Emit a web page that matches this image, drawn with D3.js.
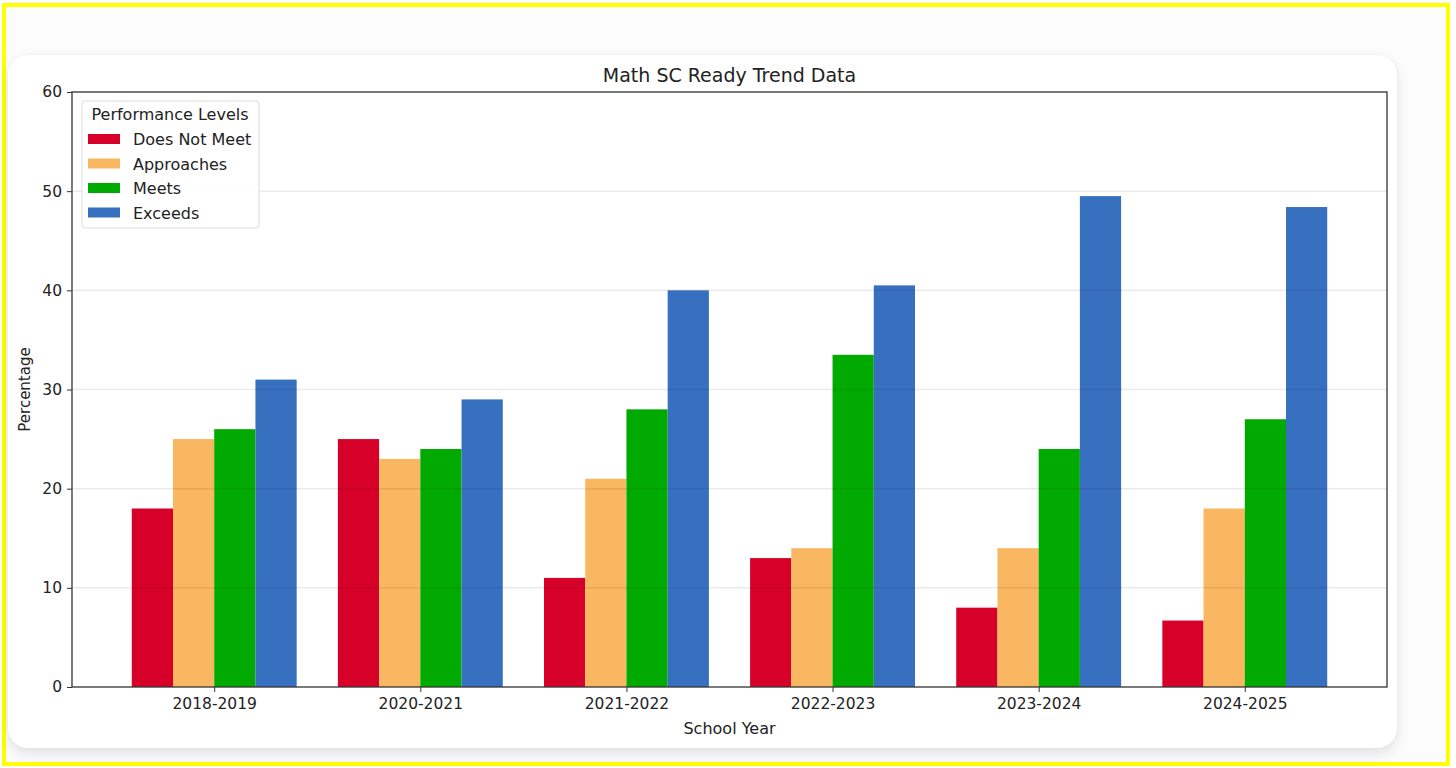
<!DOCTYPE html>
<html>
<head>
<meta charset="utf-8">
<script src="https://cdn.jsdelivr.net/npm/d3@7"></script>
<style>
  html, body { margin: 0; padding: 0; background: #fff; }
  body { width: 1456px; height: 768px; position: relative; overflow: hidden; }
  #frame { position: absolute; left: 2px; top: 3px; width: 1440px; height: 755px; border: 4px solid #ffff00; background: #fcfcfc; }
  #card { position: absolute; left: 8px; top: 55px; width: 1389px; height: 693px; background: #fff; border-radius: 20px;
          box-shadow: 0 6px 14px rgba(0,0,0,0.10), 0 0 4px rgba(0,0,0,0.04); }
  svg { position: absolute; left: 0; top: 0; }
  text { font-family: "DejaVu Sans", sans-serif; fill: #222; }
</style>
</head>
<body>
<div id="frame"></div>
<div id="card"></div>
<div id="chart"></div>
<script>
// data
var years = ["2018-2019", "2020-2021", "2021-2022", "2022-2023", "2023-2024", "2024-2025"];
var levels = ["Does Not Meet", "Approaches", "Meets", "Exceeds"];
var doesNotMeet = [18, 25, 11, 13, 8, 6.7];
var approaches = [25, 23, 21, 14, 14, 18];
var meets = [26, 24, 28, 33.5, 24, 27];
var exceeds = [31, 29, 40, 40.5, 49.5, 48.4];
var yTicks = [0, 10, 20, 30, 40, 50, 60];
var colors = ["#d60029", "#f9b761", "#00aa00", "#3870c0"];

var series = [doesNotMeet, approaches, meets, exceeds];

// plot area
var pLeft = 72, pRight = 1387, pTop = 92, pBottom = 687;

var svg = d3.select("#chart").append("svg")
    .attr("width", 1456)
    .attr("height", 768);

var x = d3.scaleLinear().domain([-0.69, years.length - 1 + 0.69]).range([pLeft, pRight]);
var y = d3.scaleLinear().domain([0, 60]).range([pBottom, pTop]);
var barW = 0.2;

// bars
series.forEach(function(vals, i) {
  svg.append("g").selectAll("rect").data(vals).enter()
    .append("rect")
      .attr("x", function(d, j) { return x(j + (i - 2) * barW); })
      .attr("y", function(d) { return y(d); })
      .attr("width", x(barW) - x(0))
      .attr("height", function(d) { return y(0) - y(d); })
      .attr("fill", colors[i]);
});

// grid (above bars, faint)
svg.append("g").selectAll("line").data(yTicks.slice(1, -1)).enter()
  .append("line")
    .attr("x1", pLeft).attr("x2", pRight)
    .attr("y1", function(d) { return y(d); })
    .attr("y2", function(d) { return y(d); })
    .attr("stroke", "rgba(0,0,0,0.08)")
    .attr("stroke-width", 1.5);

// axes
var yAxis = svg.append("g")
  .attr("transform", "translate(" + pLeft + ",0)")
  .call(d3.axisLeft(y).tickValues(yTicks).tickSize(5).tickPadding(5));
var xAxis = svg.append("g")
  .attr("transform", "translate(0," + pBottom + ")")
  .call(d3.axisBottom(x).tickValues(d3.range(years.length)).tickFormat(function(d) { return years[d]; }).tickSize(5).tickPadding(6));

[yAxis, xAxis].forEach(function(a) {
  a.select(".domain").remove();
  a.selectAll("line").attr("stroke", "#333");
  a.selectAll("text").style("font-family", "DejaVu Sans").style("font-size", "15.5px").attr("fill", "#222");
});

// frame
svg.append("rect")
  .attr("x", pLeft).attr("y", pTop)
  .attr("width", pRight - pLeft).attr("height", pBottom - pTop)
  .attr("fill", "none").attr("stroke", "#333").attr("stroke-width", 1.3);

// title and labels
svg.append("text")
  .attr("x", (pLeft + pRight) / 2).attr("y", 82)
  .attr("text-anchor", "middle")
  .style("font-size", "19px")
  .text("Math SC Ready Trend Data");

svg.append("text")
  .attr("x", (pLeft + pRight) / 2).attr("y", 734)
  .attr("text-anchor", "middle")
  .style("font-size", "16px")
  .text("School Year");

svg.append("text")
  .attr("transform", "translate(30," + ((pTop + pBottom) / 2) + ") rotate(-90)")
  .attr("text-anchor", "middle")
  .style("font-size", "15px")
  .text("Percentage");

// legend
var lg = svg.append("g").attr("transform", "translate(82,101)");
lg.append("rect")
  .attr("width", 177).attr("height", 127).attr("rx", 3)
  .attr("fill", "rgba(255,255,255,0.85)")
  .attr("stroke", "#ddd");
lg.append("text")
  .attr("x", 88).attr("y", 19)
  .attr("text-anchor", "middle")
  .style("font-size", "16px")
  .text("Performance Levels");
var item = lg.selectAll("g.item").data(levels).enter()
  .append("g").attr("class", "item")
    .attr("transform", function(d, i) { return "translate(0," + (38 + i * 24.5) + ")"; });
item.append("rect")
  .attr("x", 6).attr("y", -5)
  .attr("width", 32).attr("height", 10)
  .attr("fill", function(d, i) { return colors[i]; });
item.append("text")
  .attr("x", 51).attr("y", 6)
  .style("font-size", "16px")
  .text(function(d) { return d; });
</script>
</body>
</html>
